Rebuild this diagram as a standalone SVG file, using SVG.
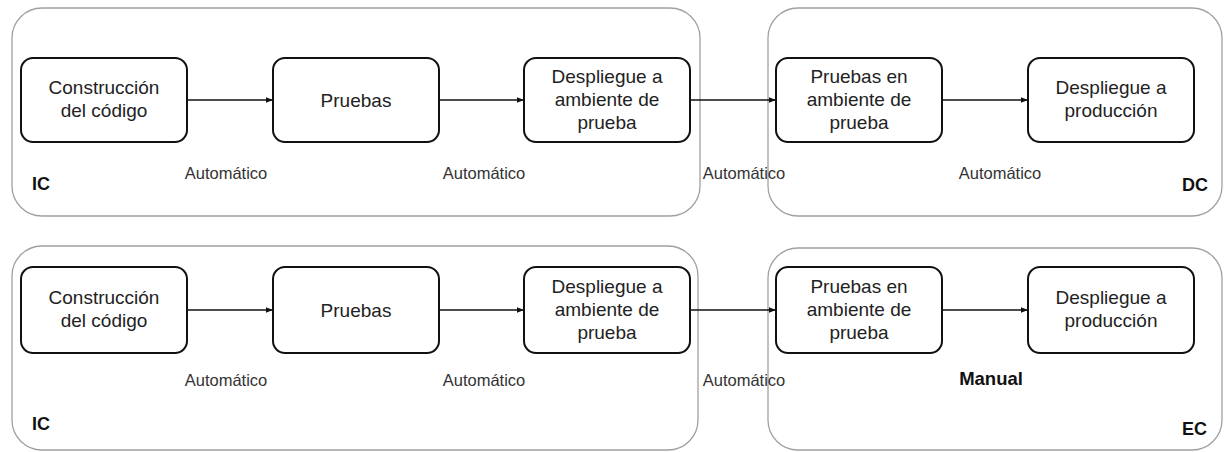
<svg xmlns="http://www.w3.org/2000/svg" width="1227" height="452" viewBox="0 0 1227 452">
  <style>
    .stage { fill: none; stroke: #a0a0a0; stroke-width: 1.3; }
    .step { fill: #ffffff; stroke: #111111; stroke-width: 2; }
    .step-text { font-family: "Liberation Sans", Arial, sans-serif; font-size: 19px; fill: #222222; text-anchor: middle; }
    .mode { font-family: "Liberation Sans", Arial, sans-serif; font-size: 16.5px; fill: #333333; text-anchor: middle; }
    .mode-bold { font-family: "Liberation Sans", Arial, sans-serif; font-size: 18.5px; font-weight: bold; fill: #111111; text-anchor: middle; }
    .stage-name { font-family: "Liberation Sans", Arial, sans-serif; font-size: 18px; font-weight: bold; fill: #111111; }
    .flow { fill: none; stroke: #111111; stroke-width: 1.6; marker-end: url(#head); }
  </style>
  <defs>
    <marker id="head" viewBox="0 0 10 10" refX="10" refY="5" markerWidth="4.5" markerHeight="4.5" orient="auto" markerUnits="strokeWidth">
      <path d="M0,1 L10,5 L0,9 z" fill="#111111"/>
    </marker>
  </defs>

  <!-- Stage containers -->
  <g id="stages">
    <rect id="stage-ic-top" class="stage" x="12" y="8" width="688" height="208" rx="30"/>
    <rect id="stage-dc" class="stage" x="768" y="8" width="454" height="208" rx="30"/>
    <rect id="stage-ic-bottom" class="stage" x="12" y="246" width="686" height="204" rx="30"/>
    <rect id="stage-ec" class="stage" x="768" y="248" width="454" height="202" rx="30"/>
  </g>

  <!-- Connectors -->
  <g id="connectors">
    <path class="flow" d="M187,100 H273"/>
    <path class="flow" d="M439,100 H524"/>
    <path class="flow" d="M690,100 H776"/>
    <path class="flow" d="M942,100 H1028"/>
    <path class="flow" d="M187,310 H273"/>
    <path class="flow" d="M439,310 H524"/>
    <path class="flow" d="M690,310 H776"/>
    <path class="flow" d="M942,310 H1028"/>
  </g>

  <!-- Top pipeline: continuous delivery -->
  <g id="t-build">
    <rect class="step" x="21" y="58" width="166" height="84" rx="12"/>
    <text class="step-text" x="104" y="94">Construcción</text>
    <text class="step-text" x="104" y="117">del código</text>
  </g>
  <g id="t-tests">
    <rect class="step" x="273" y="58" width="166" height="84" rx="12"/>
    <text class="step-text" x="356" y="107">Pruebas</text>
  </g>
  <g id="t-deploy-test">
    <rect class="step" x="524" y="58" width="166" height="84" rx="12"/>
    <text class="step-text" x="607" y="83">Despliegue a</text>
    <text class="step-text" x="607" y="106">ambiente de</text>
    <text class="step-text" x="607" y="129">prueba</text>
  </g>
  <g id="t-test-env">
    <rect class="step" x="776" y="58" width="166" height="84" rx="12"/>
    <text class="step-text" x="859" y="83">Pruebas en</text>
    <text class="step-text" x="859" y="106">ambiente de</text>
    <text class="step-text" x="859" y="129">prueba</text>
  </g>
  <g id="t-deploy-prod">
    <rect class="step" x="1028" y="58" width="166" height="84" rx="12"/>
    <text class="step-text" x="1111" y="94">Despliegue a</text>
    <text class="step-text" x="1111" y="117">producción</text>
  </g>
  <g id="t-labels">
    <text class="mode" x="226" y="179">Automático</text>
    <text class="mode" x="484" y="179">Automático</text>
    <text class="mode" x="744" y="179">Automático</text>
    <text class="mode" x="1000" y="179">Automático</text>
    <text class="stage-name" x="32" y="190">IC</text>
    <text class="stage-name" x="1182" y="191">DC</text>
  </g>

  <!-- Bottom pipeline: continuous delivery with manual release -->
  <g id="b-build">
    <rect class="step" x="21" y="267" width="166" height="86" rx="12"/>
    <text class="step-text" x="104" y="304">Construcción</text>
    <text class="step-text" x="104" y="327">del código</text>
  </g>
  <g id="b-tests">
    <rect class="step" x="273" y="267" width="166" height="86" rx="12"/>
    <text class="step-text" x="356" y="317">Pruebas</text>
  </g>
  <g id="b-deploy-test">
    <rect class="step" x="524" y="267" width="166" height="86" rx="12"/>
    <text class="step-text" x="607" y="293">Despliegue a</text>
    <text class="step-text" x="607" y="316">ambiente de</text>
    <text class="step-text" x="607" y="339">prueba</text>
  </g>
  <g id="b-test-env">
    <rect class="step" x="776" y="267" width="166" height="86" rx="12"/>
    <text class="step-text" x="859" y="293">Pruebas en</text>
    <text class="step-text" x="859" y="316">ambiente de</text>
    <text class="step-text" x="859" y="339">prueba</text>
  </g>
  <g id="b-deploy-prod">
    <rect class="step" x="1028" y="267" width="166" height="86" rx="12"/>
    <text class="step-text" x="1111" y="304">Despliegue a</text>
    <text class="step-text" x="1111" y="327">producción</text>
  </g>
  <g id="b-labels">
    <text class="mode" x="226" y="386">Automático</text>
    <text class="mode" x="484" y="386">Automático</text>
    <text class="mode" x="744" y="386">Automático</text>
    <text class="mode-bold" x="991" y="385">Manual</text>
    <text class="stage-name" x="32" y="430">IC</text>
    <text class="stage-name" x="1182" y="435">EC</text>
  </g>
</svg>
